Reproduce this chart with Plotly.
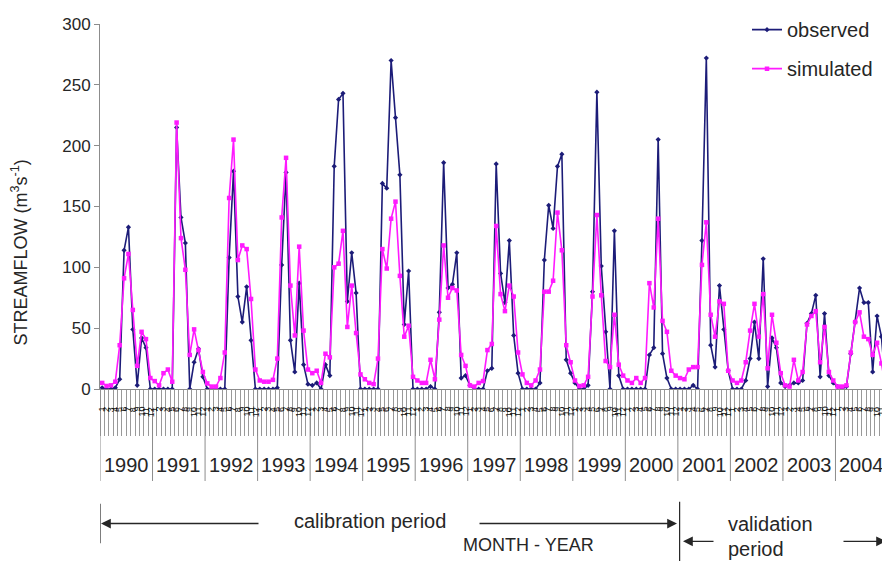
import plotly.graph_objects as go

YEARS = list(range(1990, 2005))
MONTHS = [str(m) for m in range(1, 13)]

observed = [
    1, 0, 0, 1, 8, 114, 133, 49, 3, 42, 34, 0,          # 1990
    0, 0, 0, 0, 0, 215, 141, 120, 0, 22, 33, 10,        # 1991
    0, 0, 0, 0, 0, 108, 179, 76, 55, 84, 40, 0,         # 1992
    0, 0, 0, 0, 1, 102, 178, 40, 14, 87, 20, 4,         # 1993
    3, 5, 0, 20, 11, 183, 238, 243, 72, 112, 79, 0,     # 1994
    0, 0, 0, 0, 169, 165, 270, 223, 176, 53, 97, 0,     # 1995
    0, 0, 0, 2, 0, 63, 186, 83, 86, 112, 9, 11,         # 1996
    3, 0, 0, 0, 15, 17, 185, 95, 71, 122, 44, 13,       # 1997
    0, 0, 0, 0, 5, 106, 151, 132, 183, 193, 24, 13,     # 1998
    5, 0, 0, 3, 80, 244, 101, 47, 0, 130, 11, 0,        # 1999
    0, 0, 0, 0, 0, 28, 34, 205, 29, 9, 0, 0,            # 2000
    0, 0, 0, 3, 0, 122, 272, 36, 18, 85, 49, 15,        # 2001
    0, 0, 0, 7, 25, 55, 25, 107, 2, 42, 34, 5,          # 2002
    2, 3, 5, 5, 7, 54, 62, 77, 10, 62, 11, 5,           # 2003
    2, 0.5, 2, 29, 55, 83, 71, 71, 14, 60, 43, 0,       # 2004
]

simulated = [
    5, 2.5, 3, 6, 36, 91, 111, 65, 19, 47, 41, 9,       # 1990
    6.5, 3, 13, 16, 6, 219, 124, 98, 28, 49, 32, 14,    # 1991
    4.6, 2, 2, 9, 30, 157, 205, 106, 118, 115, 74, 16,  # 1992
    7, 6, 6, 7.5, 25, 141, 190, 85, 44, 117, 48, 16,    # 1993
    13, 15, 5, 29, 26, 100, 103, 130, 51, 85, 46, 12,   # 1994
    8, 5, 4, 25, 115, 99, 140, 154, 93, 43, 52, 10,     # 1995
    7, 5, 5, 24, 8, 57, 118, 75, 83, 81, 28, 19,        # 1996
    3, 2, 5, 6.5, 32, 37, 134, 78, 64, 85, 76, 30,      # 1997
    12, 5, 3, 7, 16, 80, 80, 89, 145, 114, 36, 22,      # 1998
    7, 2.4, 3, 10, 76, 143, 77, 23, 18, 61, 20, 11,     # 1999
    7, 5, 9, 5, 9, 87, 67, 140, 56, 47, 15, 11,         # 2000
    9, 8, 16, 18, 18, 102, 137, 61, 43, 72, 70, 15,     # 2001
    7, 5, 7, 22, 48, 70, 43, 78, 17, 61, 38, 13,        # 2002
    3, 2, 24, 7, 14, 53, 60, 64, 22, 51, 14, 7,         # 2003
    2, 2, 3, 30, 55, 63, 43, 41, 28, 38, 21, 0.5,       # 2004
]

Y_TICKS = [0, 50, 100, 150, 200, 250, 300]
CAL_YEARS = (1990, 2000)
VAL_YEARS = (2001, 2004)

# the page body adds an 8px margin, so the figure is drawn 8px smaller
OFF = 8
W, H = 890 - OFF, 563 - OFF
L, R, T = 100 - OFF, 2, 20 - OFF
B = H - (389 - OFF)
PW, PH = W - L - R, H - T - B
n = len(YEARS) * len(MONTHS)
xs = list(range(n))
px_per = PW / n


def py(p):  # reference pixel y -> paper y
    return (389 - p) / PH


def pxi(p):  # reference pixel x -> index coordinate
    return (p - 100) / px_per - 0.5


TXT = "#262626"
FONT = "Liberation Sans, Arial, sans-serif"
GRAY = "#8c8c8c"

fig = go.Figure()
fig.add_trace(go.Scatter(
    x=xs, y=observed, name="observed", mode="lines+markers",
    line=dict(color="#1c1c78", width=1.6),
    marker=dict(symbol="diamond", size=4, color="#1c1c78"),
    legendgroup="a",
))
fig.add_trace(go.Scatter(
    x=xs, y=simulated, name="simulated", mode="lines+markers",
    line=dict(color="#ff1aff", width=1.6),
    marker=dict(symbol="square", size=4.5, color="#ff1aff"),
    legendgroup="b",
))

annotations = []
shapes = []

# month labels
for i in xs:
    annotations.append(dict(
        x=i, y=py(405), xref="x", yref="paper", text=MONTHS[i % 12],
        showarrow=False, textangle=-90, yanchor="top", xanchor="center",
        font=dict(size=9, color="#111111", family=FONT),
    ))

# year labels and dividers
for k, yr in enumerate(YEARS):
    annotations.append(dict(
        x=k * 12 + 5.5, y=py(466), xref="x", yref="paper", text=str(yr),
        showarrow=False, yanchor="middle", xanchor="center",
        font=dict(size=20, color=TXT, family=FONT),
    ))
for k in range(len(YEARS) + 1):
    xb = k * 12 - 0.5
    shapes.append(dict(type="line", xref="x", yref="paper", x0=xb, x1=xb,
                       y0=0, y1=py(482), line=dict(color=GRAY, width=1)))

# period brackets
cal_end = (CAL_YEARS[1] - YEARS[0] + 1) * 12 - 0.5
val_end = (VAL_YEARS[1] - YEARS[0] + 1) * 12 - 0.5
shapes.append(dict(type="line", xref="x", yref="paper", x0=-0.5, x1=-0.5,
                   y0=py(505), y1=py(545), line=dict(color=TXT, width=1.2)))
shapes.append(dict(type="line", xref="x", yref="paper", x0=cal_end + 0.4, x1=cal_end + 0.4,
                   y0=py(503), y1=py(563), line=dict(color=TXT, width=1.2)))
shapes.append(dict(type="line", xref="x", yref="paper", x0=val_end - 0.1, x1=val_end - 0.1,
                   y0=py(503), y1=py(563), line=dict(color=TXT, width=1.5)))


def arrow(head_px, tail_px, ypx):
    annotations.append(dict(
        x=pxi(head_px), y=py(ypx), xref="x", yref="paper",
        ax=pxi(tail_px), ay=0, axref="x", ayref="pixel",
        text="", showarrow=True, arrowhead=2, arrowsize=1.4, arrowwidth=1.4,
        arrowcolor=TXT, standoff=0, startstandoff=0,
    ))


arrow(101, 260, 525)
arrow(677, 478, 525)
arrow(683, 715, 543)
arrow(886, 842, 543)

annotations += [
    dict(x=pxi(370), y=py(522), xref="x", yref="paper", text="calibration period",
         showarrow=False, xanchor="center", yanchor="middle",
         font=dict(size=20, color=TXT, family=FONT)),
    dict(x=pxi(528), y=py(547), xref="x", yref="paper", text="MONTH - YEAR",
         showarrow=False, xanchor="center", yanchor="middle",
         font=dict(size=18, color=TXT, family=FONT)),
    dict(x=pxi(726), y=py(525), xref="x", yref="paper", text="validation",
         showarrow=False, xanchor="left", yanchor="middle",
         font=dict(size=20, color=TXT, family=FONT)),
    dict(x=pxi(726), y=py(551), xref="x", yref="paper", text="period",
         showarrow=False, xanchor="left", yanchor="middle",
         font=dict(size=20, color=TXT, family=FONT)),
    dict(x=(20 - 100) / PW, y=py(251), xref="paper", yref="paper",
         text="STREAMFLOW (m<sup>3</sup>s<sup>-1</sup>)", showarrow=False,
         xanchor="center", yanchor="middle",
         textangle=-90, font=dict(size=18, color=TXT, family=FONT)),
]

fig.update_layout(
    width=W, height=H,
    margin=dict(l=L, r=R, t=T, b=B, pad=0),
    paper_bgcolor="white", plot_bgcolor="white",
    font=dict(family=FONT, color=TXT, size=16),
    showlegend=True,
    legend=dict(x=(747 - 100) / PW, y=py(6), xanchor="left", yanchor="top",
                bgcolor="rgba(0,0,0,0)", font=dict(size=20, color=TXT, family=FONT),
                itemwidth=30, tracegroupgap=10, traceorder="grouped"),
    annotations=annotations,
    shapes=shapes,
)
fig.update_xaxes(
    range=[-0.5, n - 0.5], showgrid=False, zeroline=False,
    showline=True, linecolor=GRAY, linewidth=1,
    tickmode="linear", tick0=-0.5, dtick=1, ticks="outside", ticklen=46,
    tickcolor="#999999", tickwidth=1, showticklabels=False,
)
fig.update_yaxes(
    range=[0, 300], tickvals=Y_TICKS, showgrid=False, zeroline=False,
    showline=True, linecolor=GRAY, linewidth=1,
    ticks="outside", ticklen=5, tickcolor=GRAY,
    tickfont=dict(size=17, color=TXT, family=FONT),
)

fig.write_html("out.html")
